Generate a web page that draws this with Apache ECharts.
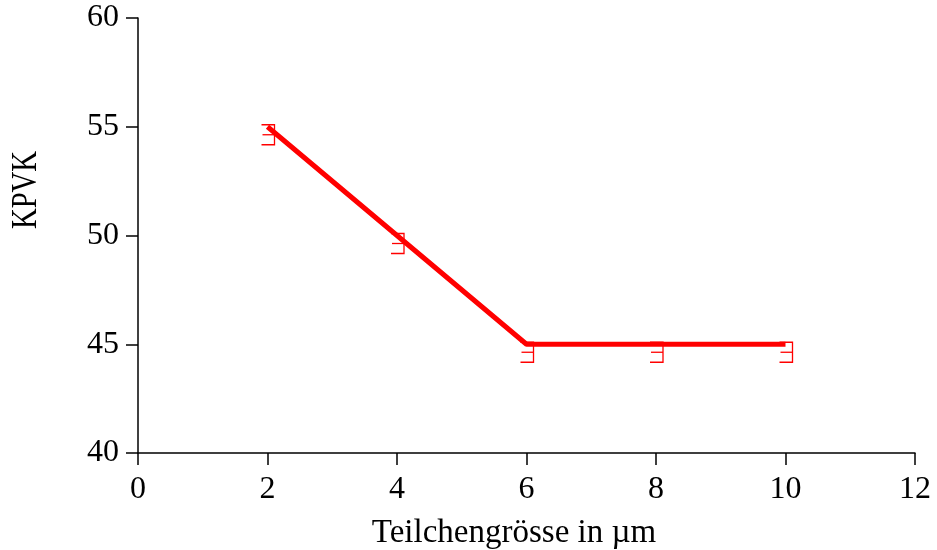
<!DOCTYPE html>
<html>
<head>
<meta charset="utf-8">
<script src="https://cdn.jsdelivr.net/npm/echarts@6/dist/echarts.min.js"></script>
<style>
  html, body { margin: 0; padding: 0; background: #fff; }
  #chart { width: 937px; height: 550px; }
</style>
</head>
<body>
<div id="chart"></div>
<script>
// Particle size (µm) against KPVK
const particleSize = [2, 4, 6, 8, 10];
const fitLine = [55, 50, 45, 45, 45];
const measured = [55, 50, 45, 45, 45];
const xTicks = [0, 2, 4, 6, 8, 10, 12];
const yTicks = [40, 45, 50, 55, 60];

const xAxisTitle = 'Teilchengrösse in µm';
const yAxisTitle = 'KPVK';

const RED = '#ff0000';
const FONT = '"Liberation Serif", "Times New Roman", serif';

const chart = echarts.init(document.getElementById('chart'), null, { renderer: 'canvas' });

// Measured-point glyph: three short horizontal strokes joined on the right
function renderMarker(params, api) {
  const p = api.coord([api.value(0), api.value(1)]);
  const x0 = p[0] - 6, x1 = p[0] + 7;
  const y0 = p[1] - 2, y1 = y0 + 10, y2 = y0 + 20;
  const style = { stroke: RED, lineWidth: 1.3, fill: null };
  return {
    type: 'group',
    children: [
      { type: 'polyline', shape: { points: [[x0, y0], [x1, y0], [x1, y2], [x0, y2]] }, style: style },
      { type: 'line', shape: { x1: x0 + 1, y1: y1, x2: x1, y2: y1 }, style: style }
    ]
  };
}

const axisLabel = { color: '#000', fontFamily: FONT, fontSize: 32 };

chart.setOption({
  animation: false,
  backgroundColor: '#fff',
  grid: { left: 138, right: 22, top: 18, bottom: 97, containLabel: false },
  xAxis: {
    type: 'value',
    min: xTicks[0],
    max: xTicks[xTicks.length - 1],
    interval: 2,
    axisLine: { show: true, lineStyle: { color: '#000', width: 1.5 } },
    axisTick: { show: true, length: 12, lineStyle: { color: '#000', width: 1.5 } },
    splitLine: { show: false },
    axisLabel: Object.assign({ margin: 21 }, axisLabel)
  },
  yAxis: {
    type: 'value',
    min: yTicks[0],
    max: yTicks[yTicks.length - 1],
    interval: 5,
    axisLine: { show: true, lineStyle: { color: '#000', width: 1.5 } },
    axisTick: { show: true, length: 12, lineStyle: { color: '#000', width: 1.5 } },
    splitLine: { show: false },
    axisLabel: Object.assign({ margin: 19 }, axisLabel)
  },
  graphic: [
    {
      type: 'text', x: 514, y: 517,
      style: { text: xAxisTitle, fill: '#000', font: '33px ' + FONT, align: 'center', verticalAlign: 'top' }
    },
    {
      type: 'text', x: 9, y: 190, rotation: Math.PI / 2, scaleX: 0.82,
      style: { text: yAxisTitle, fill: '#000', font: '35px ' + FONT, align: 'center', verticalAlign: 'top' }
    }
  ],
  series: [
    {
      type: 'line',
      data: particleSize.map((x, i) => [x, fitLine[i]]),
      showSymbol: false,
      lineStyle: { color: RED, width: 5 },
      z: 3
    },
    {
      type: 'custom',
      data: particleSize.map((x, i) => [x, measured[i]]),
      renderItem: renderMarker,
      z: 2
    }
  ]
});
</script>
</body>
</html>
